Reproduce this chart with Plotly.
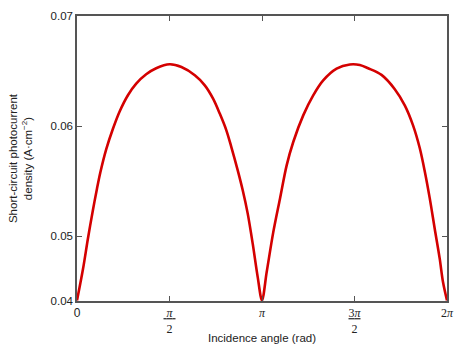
import math
import plotly.graph_objects as go

# Incidence angle (rad)
angle = [0.0, 0.1017, 0.1865, 0.2713, 0.3391, 0.3950, 0.4968, 0.6103, 0.7222, 0.8647,
         1.0054, 1.1749, 1.3445, 1.5733, 1.7734, 2.0006, 2.1701, 2.3108, 2.4244, 2.5363,
         2.6211, 2.7296, 2.8144, 2.8991, 2.9839, 3.0687, 3.1416,
         3.2213, 3.3332, 3.4468, 3.5603, 3.6722, 3.8418, 4.0113, 4.1809, 4.4080, 4.6335,
         4.8031, 4.9438, 5.1710, 5.3965, 5.5660, 5.7067, 5.8203, 5.9051, 5.9898, 6.0746,
         6.1594, 6.2153, 6.2832]

# Short-circuit photocurrent density (A/cm^2)
current = [0.04415, 0.04700, 0.04980, 0.05240, 0.05430, 0.05575, 0.05790, 0.05975, 0.06130, 0.06280,
           0.06385, 0.06470, 0.06525, 0.06561, 0.06536, 0.06461, 0.06370, 0.06249, 0.06113, 0.05961,
           0.05809, 0.05597, 0.05416, 0.05204, 0.04931, 0.04627, 0.04415,
           0.04673, 0.05036, 0.05340, 0.05643, 0.05855, 0.06097, 0.06279, 0.06415, 0.06522, 0.06560,
           0.06555, 0.06525, 0.06465, 0.06335, 0.06188, 0.06006, 0.05800, 0.05590, 0.05345, 0.05067,
           0.04795, 0.04582, 0.04415]

x_tick_vals = [0, math.pi / 2, math.pi, 3 * math.pi / 2, 2 * math.pi]
x_tick_text = [
    '<span style="font-family:Liberation Sans">0</span>',
    '<u>&nbsp;<i>π</i>&nbsp;</u><br>2',
    '<i>π</i>',
    '<u>3<i>π</i></u><br>2',
    '2<i>π</i>',
]
y_tick_vals = [0.0441, 0.05, 0.06, 0.07]
y_tick_text = ["0.04", "0.05", "0.06", "0.07"]

fig = go.Figure()
fig.add_trace(go.Scatter(
    x=angle, y=current, mode="lines",
    line=dict(color="#d40000", width=2.6, shape="spline", smoothing=0.9),
    showlegend=False, hoverinfo="skip",
))

axis_common = dict(
    showline=True, linecolor="#555555", linewidth=1.5, mirror="ticks",
    ticks="inside", tickcolor="#555555", ticklen=5, tickwidth=1.2,
    showgrid=False, zeroline=False, automargin=False,
)

fig.update_layout(
    width=457, height=344,
    margin=dict(l=77, r=10, t=16, b=43),
    paper_bgcolor="white", plot_bgcolor="white",
    font=dict(family="Liberation Sans, Arial, sans-serif", size=11.5, color="#222222"),
    xaxis=dict(
        range=[0, 2 * math.pi], tickmode="array", tickvals=x_tick_vals, ticktext=x_tick_text,
        tickfont=dict(family="Liberation Serif, Times New Roman, serif", size=12),
        title=dict(text="Incidence angle (rad)", standoff=0,
                   font=dict(family="Liberation Sans, Arial, sans-serif", size=11.5)),
        **axis_common,
    ),
    yaxis=dict(
        range=[0.0441, 0.07], tickmode="array", tickvals=y_tick_vals, ticktext=y_tick_text,
        title=dict(text="Short-circuit photocurrent<br>density (A·cm<sup>−2</sup>)", standoff=16,
                   font=dict(family="Liberation Sans, Arial, sans-serif", size=11.5)),
        **axis_common,
    ),
)

fig.write_html(
    "out.html",
    config={"displayModeBar": False},
    post_script="document.body.style.margin='0px';document.body.style.overflow='hidden';",
)
